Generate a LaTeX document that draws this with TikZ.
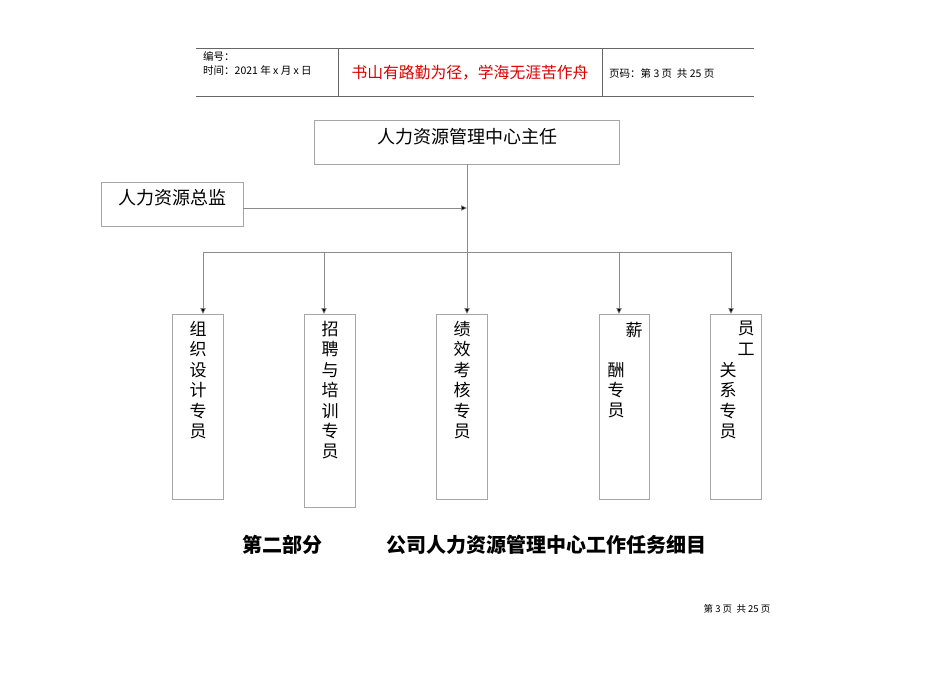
\documentclass[tikz,border=0pt]{standalone}
\usepackage{fontspec}
\setmainfont{Noto Sans CJK SC}
\usetikzlibrary{arrows.meta}
\begin{document}
\begin{tikzpicture}[x=1pt,y=-1pt,
  bx/.style={draw=black!35,line width=0.6pt},
  ln/.style={draw=black!45,line width=0.6pt},
  ar/.style={ln,-{Triangle[length=6pt,width=5.5pt,fill=black]}},
  t/.style={inner sep=0pt,font=\fontsize{18}{18}\selectfont},
  vt/.style={t,align=center,font=\fontsize{17}{20.4}\selectfont,anchor=north},
  hd/.style={inner sep=0pt,anchor=west,font=\fontsize{10.5}{11}\selectfont}]
\useasboundingbox (0,0) rectangle (950,672);
% header
\draw[ln,black!60] (196,48) -- (754,48);
\draw[ln,black!60] (196,96) -- (754,96);
\draw[ln,black!60] (338,48) -- (338,96);
\draw[ln,black!60] (602,48) -- (602,96);
\node[hd] (h1) at (203,56) {编号：};
\node[hd] (h2) at (203,70) {时间：2021 年 x 月 x 日};
\node[inner sep=0pt,text=red!85!black,font=\fontsize{15.8}{16}\selectfont] (h3) at (470,73) {书山有路勤为径，学海无涯苦作舟};
\node[hd] (h4) at (609,73) {页码：第 3 页\ \ 共 25 页};
% boxes
\draw[bx] (314,120) rectangle (619,164);
\node[t] (top) at (467,137) {人力资源管理中心主任};
\draw[bx] (101,182) rectangle (243,226);
\node[t] (zj) at (172,198) {人力资源总监};
\coordinate (zjr) at (243,208);
\coordinate (mid) at (467,208);
\draw[ar] (zjr) -- (mid);
\coordinate (tb) at (467,164);
\coordinate (j) at (467,252);
\draw[ln] (tb) -- (j);
\draw[ln] (203,252) -- (731,252);
\foreach \x/\b in {203/314,324/314,467/314,619/314,731/314}
  \draw[ar] (\x,252) -- (\x,\b);
\draw[bx] (172,314) rectangle (223,499);
\draw[bx] (304,314) rectangle (355,507);
\draw[bx] (436,314) rectangle (487,499);
\draw[bx] (599,314) rectangle (649,499);
\draw[bx] (710,314) rectangle (761,499);
\node[vt] (b1) at (198,321) {组\\织\\设\\计\\专\\员};
\node[vt] (b2) at (330,321) {招\\聘\\与\\培\\训\\专\\员};
\node[vt] (b3) at (462,321) {绩\\效\\考\\核\\专\\员};
\node[t,font=\fontsize{17}{17}\selectfont] (b4a) at (634,330) {薪};
\node[vt] (b4) at (616,362) {酬\\专\\员};
\node[vt] (b5a) at (746,321) {员\\工};
\node[vt] (b5) at (728,362) {关\\系\\专\\员};
% title
\node[t,font=\fontsize{20}{20}\bfseries\selectfont] (ti1) at (282,545) {第二部分};
\node[t,font=\fontsize{20}{20}\bfseries\selectfont] (ti2) at (546,545) {公司人力资源管理中心工作任务细目};
\node[inner sep=0pt,font=\fontsize{9.5}{10}\selectfont] (ft) at (737,609) {第\ 3\ 页\ \ 共\ 25\ 页};
\end{tikzpicture}
\end{document}
